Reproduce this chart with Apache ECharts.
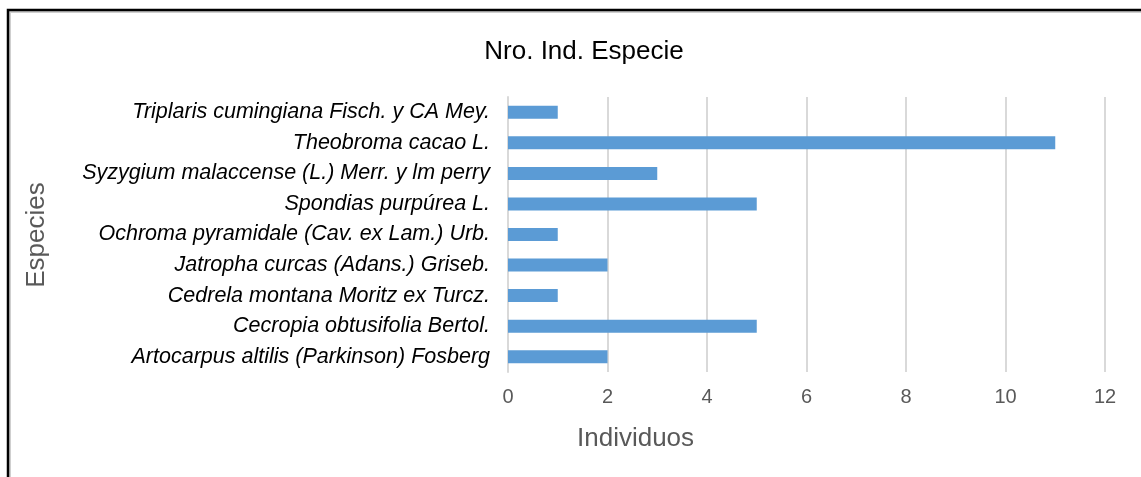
<!DOCTYPE html>
<html>
<head>
<meta charset="utf-8">
<style>
html,body{margin:0;padding:0;background:#fff;}
#chart{width:1141px;height:477px;}
</style>
<script src="https://cdn.jsdelivr.net/npm/echarts@6/dist/echarts.min.js"></script>
</head>
<body>
<div id="chart"></div>
<script>
const categories = [
  'Artocarpus altilis (Parkinson) Fosberg',
  'Cecropia obtusifolia Bertol.',
  'Cedrela montana Moritz ex Turcz.',
  'Jatropha curcas (Adans.) Griseb.',
  'Ochroma pyramidale (Cav. ex Lam.) Urb.',
  'Spondias purpúrea L.',
  'Syzygium malaccense (L.) Merr. y lm perry',
  'Theobroma cacao L.',
  'Triplaris cumingiana Fisch. y CA Mey.'
];
const values = [2, 5, 1, 2, 1, 5, 3, 11, 1];
const xTicks = [0, 2, 4, 6, 8, 10, 12];

const chart = echarts.init(document.getElementById('chart'));
const font = '"Liberation Sans", Arial, sans-serif';
chart.setOption({
  animation: false,
  backgroundColor: '#fff',
  title: {
    text: 'Nro. Ind. Especie',
    left: 579, top: 34, textAlign: 'center',
    textStyle: { fontFamily: font, fontSize: 26, fontWeight: 'normal', color: '#000' }
  },
  grid: { left: 508, right: 36, top: 97, bottom: 105, containLabel: false },
  xAxis: {
    type: 'value', min: xTicks[0], max: xTicks[xTicks.length - 1], interval: 2,
    axisLine: { show: false }, axisTick: { show: false },
    splitLine: { show: true, lineStyle: { color: '#d9d9d9', width: 2 } },
    axisLabel: { color: '#595959', fontFamily: font, fontSize: 20, margin: 15 }
  },
  yAxis: {
    type: 'category', data: categories,
    axisLine: { show: true, lineStyle: { color: '#d9d9d9', width: 2 } },
    axisTick: { show: false },
    axisLabel: { color: '#000', fontFamily: font, fontSize: 21.5, fontStyle: 'italic', margin: 18 }
  },
  series: [{
    type: 'bar', data: values, barWidth: 13,
    itemStyle: { color: '#5b9bd5' }
  }],
  graphic: [
    { type: 'text', left: 577, top: 426, style: { text: 'Individuos', font: '26px ' + font, fill: '#595959' } },
    { type: 'text', x: 37, y: 235, rotation: Math.PI / 2, style: { text: 'Especies', font: '26px ' + font, fill: '#595959', align: 'center', verticalAlign: 'middle' } },
    { type: 'rect', shape: { x: 10, y: 12, width: 1200, height: 600 }, style: { fill: 'none', stroke: '#cfcfcf', lineWidth: 2 } },
    { type: 'rect', shape: { x: 8, y: 10, width: 1200, height: 600 }, style: { fill: 'none', stroke: '#000', lineWidth: 2.5 } }
  ]
});
</script>
</body>
</html>
